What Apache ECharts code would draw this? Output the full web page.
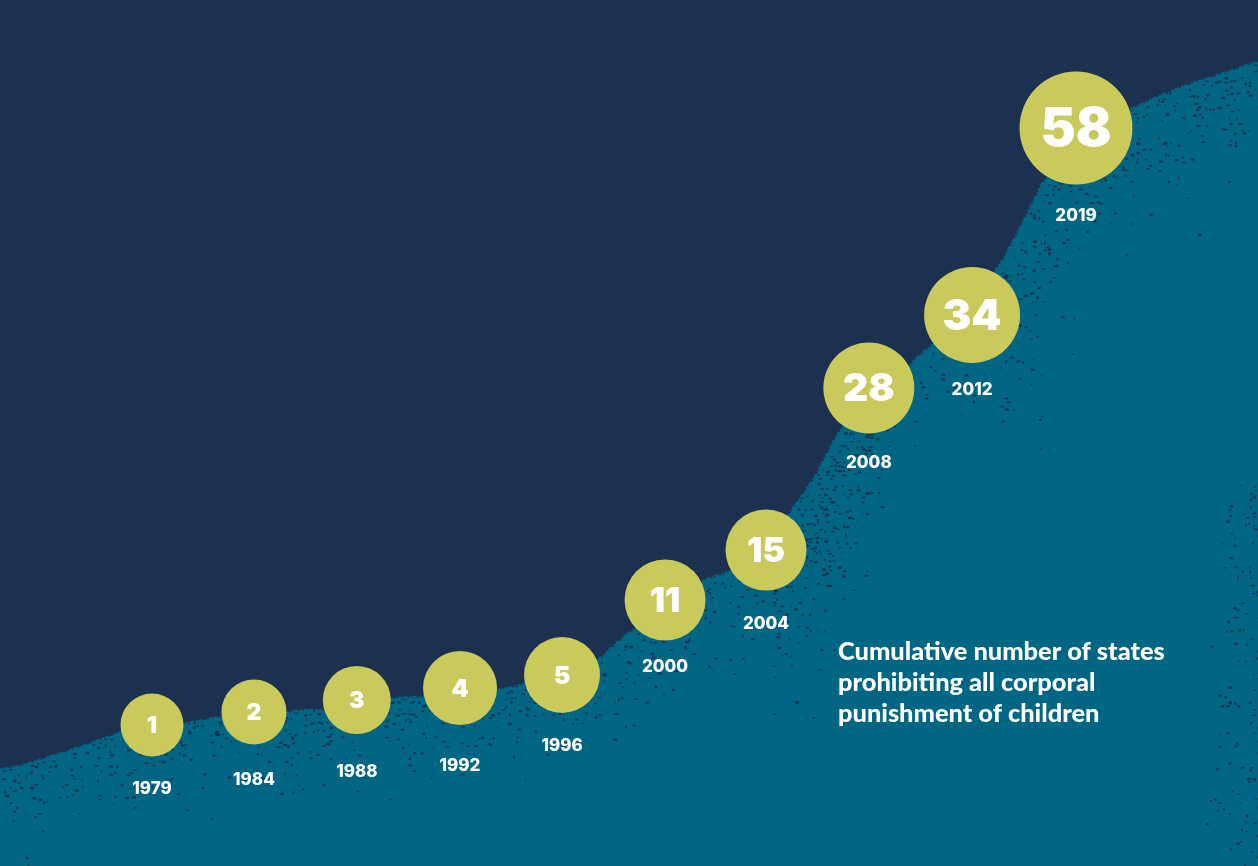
<!DOCTYPE html>
<html><head><meta charset="utf-8">
<style>html,body{margin:0;padding:0;background:#1c3150}#c{width:1258px;height:866px}</style>
<script src="https://cdn.jsdelivr.net/npm/echarts@6/dist/echarts.min.js"></script>
</head><body><div id="c"></div>
<script>
const years = ['1979','1984','1988','1992','1996','2000','2004','2008','2012','2019'];
const counts = [1,2,3,4,5,11,15,28,34,58];
const milestoneX = [0,0.996,2,3.008,4.004,5.01,5.996,7,8.008,9.023];
const circleLevel = [141,154,166,178,191,266,316,478,551,738];
const yearLevel = [77,86,94,100,120,199,242,403,476,650];
const circleSize = [63,65,68,74,76,81,81,91,96,113];
const numberSize = [23,23,23,25,25,34,34,39,43,53];
const ridgeX = [-1.484,-1.24,-1.0,-0.75,-0.51,-0.26,-0.02,0.22,0.42,0.62,1.0,1.30,1.45,1.64,2.0,2.37,2.71,3.1,3.4,3.79,4.18,4.38,4.62,4.86,5.16,5.4,5.64,5.99,6.23,6.47,6.72,7.02,7.4,7.56,7.89,8.31,8.48,8.7,9.0,9.26,9.55,9.84,10.17,10.48,10.8];
const ridgeLevel = [96,101,109,117,126,135,139,141,144,148,153,152,156,155,164,168,169,176,176,185,194,208,230,246,266,286,294,318,353,388,436,466,501,516,541,606,638,683,716,731,756,770,783,793,804];
const caption = 'Cumulative number of states\nprohibiting all corporal\npunishment of children';

const NAVY='#1c3150', TEAL='#006684', YELLOW='#c9c95c';
const W=1258,H=866;
const chart = echarts.init(document.getElementById('c'),null,{renderer:'canvas'});
const ridge = ridgeX.map((x,i)=>[x,ridgeLevel[i]]);

function build(fill){
  return {
    animation:false,
    backgroundColor:NAVY,
    grid:{left:0,right:0,top:0,bottom:0},
    xAxis:{type:'value',min:-1.484,max:10.8,show:false},
    yAxis:{type:'value',min:0,max:866,show:false},
    title:{text:caption,left:838,top:636,padding:0,textStyle:{color:'#fff',fontFamily:'Lato',fontWeight:900,fontSize:25.4,lineHeight:31}},
    series:[
      {type:'line',data:ridge,symbol:'none',
        lineStyle:{width:3,color:TEAL,type:[3,1,5,2,2,1,4,3,1,2]},
        areaStyle:{color:fill,opacity:1},z:1},
      {type:'scatter',z:3,data:milestoneX.map((x,i)=>({
          value:[x,circleLevel[i],counts[i]],
          label:{fontSize:numberSize[i],offset:[0,numberSize[i]*0.04]}})),
        symbol:'circle',symbolSize:(v,p)=>circleSize[p.dataIndex],
        itemStyle:{color:YELLOW,opacity:1},
        label:{show:true,position:'inside',formatter:p=>String(p.value[2]),color:'#fff',fontFamily:'Inter',fontWeight:900}},
      {type:'scatter',z:3,data:milestoneX.map((x,i)=>[x,yearLevel[i],years[i]]),
        symbolSize:1,itemStyle:{color:'rgba(0,0,0,0)',opacity:1},
        label:{show:true,position:'inside',formatter:p=>p.value[2],color:'#fff',fontFamily:'Inter',fontWeight:800,fontSize:17}}
    ]
  };
}
chart.setOption(build(TEAL));

// Decorative grain for the hill fill only: a deterministic hash, not chart data.
const px = ridge.map(p=>chart.convertToPixel({gridIndex:0},p));
function ridgeAt(x){
  for(let i=1;i<px.length;i++){ if(x<=px[i][0]){
    const a=px[i-1],b=px[i],t=(x-a[0])/(b[0]-a[0]);
    return {y:a[1]+t*(b[1]-a[1]),s:Math.abs((b[1]-a[1])/(b[0]-a[0]))};
  }}
  return {y:px[px.length-1][1],s:0.3};
}
function hash(a,b,k){
  let h=(a*73856093)^(b*19349663)^(k*83492791);
  h=Math.imul(h^(h>>>13),1274126177); h=Math.imul(h^(h>>>16),2654435761);
  return ((h^(h>>>15))>>>0)/4294967296;
}
function strength(x){
  if(x<520) return 1;
  if(x<770) return 0.8;
  if(x<870) return 1.5;
  if(x<1000) return 0.55;
  return 1;
}
function reach(x){ return x<520?46 : x<770?50 : x<870?62 : x<1000?48 : 60; }
const tex=document.createElement('canvas'); tex.width=W; tex.height=H;
const g=tex.getContext('2d');
g.fillStyle=TEAL; g.fillRect(0,0,W,H);
g.fillStyle=NAVY;
const cell=4;
for(let cy=0;cy<H;cy+=cell){
  for(let cx=0;cx<W;cx+=cell){
    const r=ridgeAt(cx), dy=cy-r.y;
    if(dy<-4) continue;
    const d=Math.max(dy,0)/Math.sqrt(1+r.s*r.s), q=d/reach(cx);
    let p=0.26*strength(cx)*Math.exp(-q*q);
    if(cx>1190 && cy>480) p+=0.16*Math.pow((cx-1190)/68,1.3);
    if(hash(cx,cy,1)<p){
      const ox=hash(cx,cy,2)*3, oy=hash(cx,cy,3)*3;
      const w=1.2+hash(cx,cy,4)*2.8, h=1.2+hash(cx,cy,5)*1.4;
      g.fillRect(cx+ox,cy+oy,w,h);
    }
  }
}
chart.setOption(build({image:tex,repeat:'no-repeat'}));
</script></body></html>
